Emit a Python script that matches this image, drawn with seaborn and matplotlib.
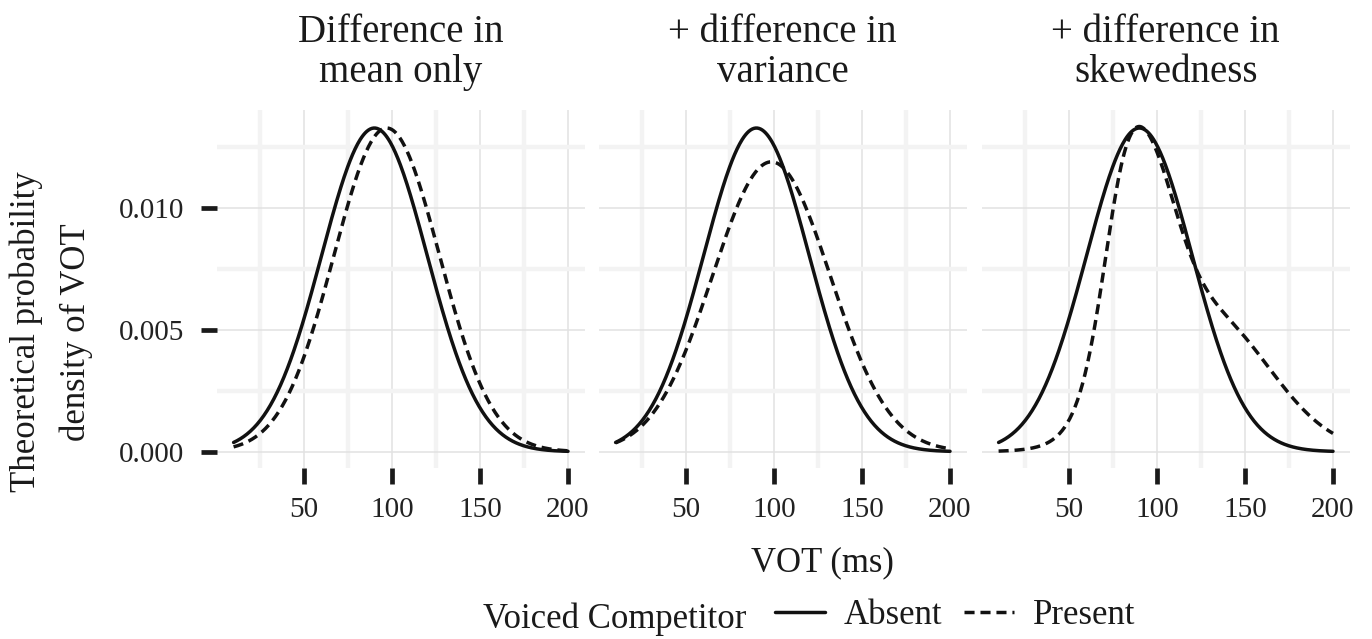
import numpy as np
import pandas as pd
import matplotlib
matplotlib.use("Agg")
import matplotlib.pyplot as plt
import seaborn as sns
from matplotlib.lines import Line2D

# ---------------- data ----------------
panel_line1 = ["Difference in", "+ difference in", "+ difference in"]
panel_line2 = ["mean only", "variance", "skewedness"]
competitor_levels = ["Absent", "Present"]
vot_min, vot_max = 10, 200
# Absent: normal distributions
absent_mean = [90, 90, 90]
absent_sd = [30, 30, 30]
# Present, panels 1-2: normal distributions
present_mean = [97, 98.5]
present_sd = [30, 33.5]
# Present, panel 3: right-skewed density (Gaussian-mixture components)
skew_weights = [0.048, 0.415, 0.504]
skew_means = [78.9, 90.5, 128.2]
skew_sds = [10.2, 18.1, 35.8]
x_ticks = [50, 100, 150, 200]
x_minor = [25, 75, 125, 175]
y_ticks = [0.000, 0.005, 0.010]
y_minor = [0.0025, 0.0075, 0.0125]
y_tick_labels = ["0.000", "0.005", "0.010"]


def normal_pdf(x, m, s):
    return np.exp(-0.5 * ((x - m) / s) ** 2) / (s * np.sqrt(2 * np.pi))


vot = np.linspace(vot_min, vot_max, 400)
rows = []
for k in range(3):
    rows.append(pd.DataFrame({"VOT": vot, "density": normal_pdf(vot, absent_mean[k], absent_sd[k]),
                              "panel": k, "competitor": "Absent"}))
    if k < 2:
        dens = normal_pdf(vot, present_mean[k], present_sd[k])
    else:
        dens = sum(w * normal_pdf(vot, m, s) for w, m, s in zip(skew_weights, skew_means, skew_sds))
    rows.append(pd.DataFrame({"VOT": vot, "density": dens, "panel": k, "competitor": "Present"}))
df = pd.concat(rows, ignore_index=True)

# ---------------- style ----------------
sns.set_style("white")
plt.rcParams["font.family"] = ["Liberation Serif", "DejaVu Serif"]

W, H = 1372, 639
fig = plt.figure(figsize=(W / 100, H / 100), dpi=100)

xlim = (vot_min - 0.05 * (vot_max - vot_min), vot_max + 0.05 * (vot_max - vot_min))
ymax = df["density"].max()
ymin = df["density"].min()
yr = ymax - ymin
ylim = (ymin - 0.05 * yr, ymax + 0.05 * yr)

px_per_x = 1.76
px_per_y = 24340.0
panel_w = (xlim[1] - xlim[0]) * px_per_x
panel_h = (ylim[1] - ylim[0]) * px_per_y
y0_px = 451.7
bottom_px = y0_px + (0 - ylim[0]) * px_per_y
lefts = [304 - (50 - xlim[0]) * px_per_x, 686 - (50 - xlim[0]) * px_per_x, 1069 - (50 - xlim[0]) * px_per_x]

dash_spec = {"Absent": "", "Present": (2.9, 1.7)}
lw = 2.5
text_col = "#1a1a1a"
for k in range(3):
    ax = fig.add_axes([lefts[k] / W, 1 - bottom_px / H, panel_w / W, panel_h / H])
    sub = df[df["panel"] == k]
    sns.lineplot(data=sub, x="VOT", y="density", style="competitor", style_order=competitor_levels,
                 dashes=dash_spec, color="#111111", linewidth=lw, legend=False, ax=ax, estimator=None)
    ax.set_xlim(xlim)
    ax.set_ylim(ylim)
    ax.set_xticks(x_ticks)
    ax.set_xticks(x_minor, minor=True)
    ax.set_yticks(y_ticks)
    ax.set_yticks(y_minor, minor=True)
    ax.grid(which="major", color="#e2e2e2", linewidth=1.1)
    ax.grid(which="minor", color="#f3f3f3", linewidth=3.2)
    ax.set_axisbelow(True)
    for sp in ax.spines.values():
        sp.set_visible(False)
    ax.tick_params(which="minor", length=0, bottom=False, left=False)
    ax.tick_params(which="major", axis="x", bottom=True, direction="out", length=11.5, width=3.4,
                   color="#1a1a1a", labelsize=21, pad=10, labelcolor="#222222")
    if k == 0:
        ax.set_yticklabels(y_tick_labels)
        ax.tick_params(which="major", axis="y", left=True, direction="out", length=11.5, width=3.4,
                       color="#1a1a1a", labelsize=21, pad=12, labelcolor="#222222")
    else:
        ax.tick_params(which="major", axis="y", left=False, length=0, labelleft=False)
    ax.set_xlabel("")
    ax.set_ylabel("")
    cx = (lefts[k] + panel_w / 2) / W
    fig.text(cx, 1 - 41.7 / H, panel_line1[k], ha="center", va="baseline", fontsize=28, color=text_col)
    fig.text(cx, 1 - 81.7 / H, panel_line2[k], ha="center", va="baseline", fontsize=28, color=text_col)

fig.text(822 / W, 1 - 571.7 / H, "VOT (ms)", ha="center", va="baseline", fontsize=25, color=text_col)
fig.text(35 / W, 1 - 332 / H, "Theoretical probability", rotation=90, rotation_mode="anchor",
         ha="center", va="baseline", fontsize=25, color=text_col)
fig.text(85 / W, 1 - 332 / H, "density of VOT", rotation=90, rotation_mode="anchor",
         ha="center", va="baseline", fontsize=25, color=text_col)

fig.text(483 / W, 1 - 628 / H, "Voiced Competitor", ha="left", va="baseline", fontsize=25, color=text_col)
handles = [Line2D([], [], color="#111111", linewidth=lw, linestyle="-"),
           Line2D([], [], color="#111111", linewidth=lw, dashes=dash_spec["Present"])]
fig.legend(handles, competitor_levels, loc="center left", bbox_to_anchor=(775 / W, 1 - 616 / H),
           ncol=2, frameon=False, fontsize=25, handlelength=1.44, handletextpad=0.55,
           columnspacing=0.6, borderpad=0, borderaxespad=0, labelcolor=text_col)

fig.savefig("out.png", dpi=100)
